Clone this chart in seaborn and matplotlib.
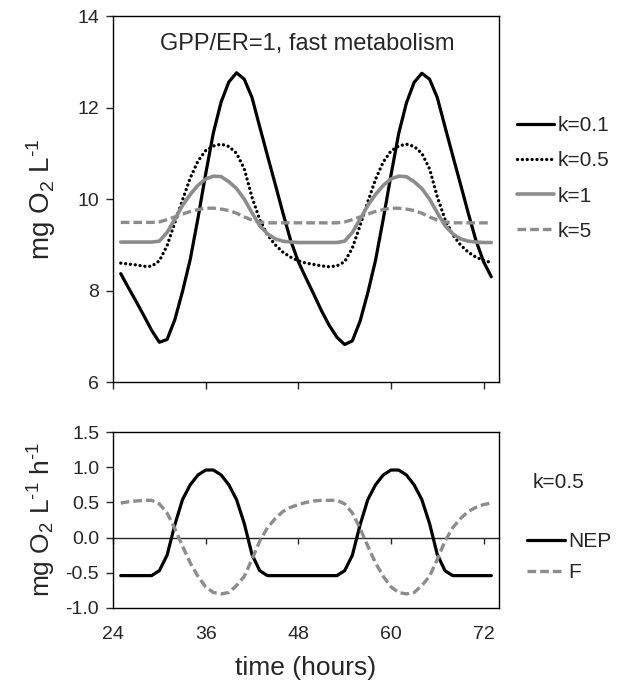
import matplotlib
matplotlib.use("Agg")
import matplotlib.pyplot as plt
import seaborn as sns

# ---- data (hourly, t = 25 .. 73 h) ----
time_h = list(range(25, 74))

# dissolved O2 (mg O2 / L), GPP/ER = 1, fast metabolism
o2_k01 = [8.37, 8.06, 7.76, 7.45, 7.13, 6.87, 6.93, 7.36, 7.98, 8.68,
          9.58, 10.55, 11.45, 12.12, 12.56, 12.76, 12.62, 12.22, 11.58, 10.95,
          10.33, 9.70, 9.10, 8.63, 8.27, 7.92, 7.56, 7.24, 6.98, 6.82,
          6.90, 7.33, 7.95, 8.66, 9.56, 10.52, 11.43, 12.10, 12.55, 12.75,
          12.62, 12.22, 11.58, 10.95, 10.33, 9.70, 9.10, 8.63, 8.30]
o2_k05 = [8.60, 8.58, 8.56, 8.53, 8.53, 8.65, 8.98, 9.48, 9.98, 10.46,
          10.83, 11.06, 11.16, 11.20, 11.15, 11.00, 10.66, 10.04, 9.55, 9.22,
          9.00, 8.84, 8.73, 8.65, 8.60, 8.57, 8.54, 8.52, 8.54, 8.63,
          8.93, 9.42, 9.94, 10.43, 10.81, 11.05, 11.16, 11.20, 11.15, 11.00,
          10.66, 10.05, 9.56, 9.22, 9.00, 8.84, 8.73, 8.66, 8.61]
o2_k1 = [9.06, 9.06, 9.06, 9.06, 9.06, 9.08, 9.27, 9.56, 9.86, 10.10,
         10.30, 10.44, 10.50, 10.49, 10.38, 10.23, 10.00, 9.70, 9.42, 9.24,
         9.13, 9.08, 9.06, 9.05, 9.05, 9.05, 9.05, 9.05, 9.05, 9.08,
         9.27, 9.56, 9.86, 10.10, 10.30, 10.44, 10.50, 10.49, 10.38, 10.23,
         10.00, 9.70, 9.42, 9.24, 9.13, 9.08, 9.06, 9.05, 9.05]
o2_k5 = [9.49, 9.49, 9.49, 9.49, 9.49, 9.50, 9.55, 9.61, 9.67, 9.73,
         9.77, 9.80, 9.80, 9.78, 9.75, 9.69, 9.61, 9.54, 9.50, 9.48,
         9.48, 9.48, 9.48, 9.48, 9.48, 9.48, 9.48, 9.48, 9.48, 9.50,
         9.55, 9.61, 9.67, 9.73, 9.77, 9.80, 9.80, 9.78, 9.75, 9.69,
         9.61, 9.54, 9.50, 9.48, 9.48, 9.48, 9.48, 9.48, 9.48]

# fluxes for k = 0.5 (mg O2 / L / h)
nep = [-0.54, -0.54, -0.54, -0.54, -0.54, -0.47, -0.25, 0.18, 0.54, 0.75,
       0.89, 0.96, 0.96, 0.89, 0.75, 0.54, 0.20, -0.24, -0.47, -0.54,
       -0.54, -0.54, -0.54, -0.54, -0.54, -0.54, -0.54, -0.54, -0.54, -0.47,
       -0.25, 0.18, 0.54, 0.75, 0.89, 0.96, 0.96, 0.89, 0.75, 0.54,
       0.20, -0.24, -0.47, -0.54, -0.54, -0.54, -0.54, -0.54, -0.54]
f_atm = [0.49, 0.51, 0.52, 0.53, 0.53, 0.48, 0.35, 0.13, -0.12, -0.36,
         -0.55, -0.70, -0.78, -0.80, -0.78, -0.68, -0.55, -0.31, -0.05, 0.14,
         0.27, 0.37, 0.43, 0.47, 0.50, 0.52, 0.53, 0.53, 0.53, 0.48,
         0.35, 0.13, -0.12, -0.36, -0.55, -0.70, -0.78, -0.80, -0.78, -0.68,
         -0.55, -0.31, -0.05, 0.14, 0.27, 0.37, 0.43, 0.47, 0.49]

x_ticks = [24, 36, 48, 60, 72]
top_yticks = [6, 8, 10, 12, 14]
bot_yticks = [-1.0, -0.5, 0.0, 0.5, 1.0, 1.5]

GRAY = "#8c8c8c"

sns.set_style("ticks")
plt.rcParams["font.family"] = ["Liberation Sans", "DejaVu Sans"]
plt.rcParams["mathtext.fontset"] = "custom"
plt.rcParams["mathtext.rm"] = "Liberation Sans"
plt.rcParams["mathtext.it"] = "Liberation Sans:italic"
plt.rcParams["mathtext.default"] = "regular"
plt.rcParams["axes.unicode_minus"] = False

fig = plt.figure(figsize=(6.19, 6.81), dpi=100)
ax1 = fig.add_axes([0.1826, 0.439, 0.6236, 0.5374])
ax2 = fig.add_axes([0.1826, 0.1072, 0.6236, 0.2584])

# ---- top panel: O2 concentration ----
top_series = [
    ("k=0.1", o2_k01, dict(color="black", lw=2.3, linestyle="-")),
    ("k=0.5", o2_k05, dict(color="black", lw=2.4, linestyle=(0, (0.01, 1.45)),
                           dash_capstyle="round")),
    ("k=1", o2_k1, dict(color=GRAY, lw=2.6, linestyle="-")),
    ("k=5", o2_k5, dict(color=GRAY, lw=2.4, linestyle=(0, (2.6, 1.2)))),
]
for lab, vals, st in top_series:
    sns.lineplot(x=time_h, y=vals, ax=ax1, label=lab, **st)

ax1.set_xlim(24, 74)
ax1.set_ylim(6, 14)
ax1.set_xticks(x_ticks)
ax1.set_yticks(top_yticks)
ax1.tick_params(axis="x", direction="out", length=5, width=1, labelbottom=False)
ax1.tick_params(axis="y", direction="out", length=5, width=1, labelsize=14, pad=5)
ax1.set_ylabel(r"mg O$_2$ L$^{\text{-}1}$", fontsize=20)
ax1.yaxis.set_label_coords(-0.143, 0.5)
ax1.text(0.504, 0.923, "GPP/ER=1, fast metabolism", transform=ax1.transAxes,
         ha="center", va="center", fontsize=17)

ax1.legend(loc="upper left", bbox_to_anchor=(0.835, 0.829),
           bbox_transform=fig.transFigure, frameon=False, fontsize=15,
           handlelength=1.8, handletextpad=0.15, labelspacing=0.77,
           borderaxespad=0, borderpad=0)

# ---- bottom panel: NEP and atmospheric exchange, k=0.5 ----
sns.lineplot(x=time_h, y=nep, ax=ax2, label="NEP", color="black", lw=2.3)
sns.lineplot(x=time_h, y=f_atm, ax=ax2, label="F", color=GRAY, lw=2.4,
             linestyle=(0, (2.6, 1.2)))

ax2.set_xlim(24, 74)
ax2.set_ylim(-1.0, 1.5)
ax2.set_xticks(x_ticks)
ax2.set_yticks(bot_yticks)
ax2.set_yticklabels([f"{v:.1f}" for v in bot_yticks])
ax2.tick_params(axis="x", length=0, labelsize=14, pad=13)
ax2.tick_params(axis="y", direction="out", length=5, width=1, labelsize=14, pad=5)
ax2.set_ylabel(r"mg O$_2$ L$^{\text{-}1}$ h$^{\text{-}1}$", fontsize=19)
ax2.yaxis.set_label_coords(-0.143, 0.5)
ax2.set_xlabel("time (hours)", fontsize=19, labelpad=9)

# zero line with its own small ticks
zero_ax = ax2.secondary_xaxis(0.4)
zero_ax.set_xticks(x_ticks)
zero_ax.tick_params(direction="out", length=4, width=1, labelbottom=False)
zero_ax.spines["bottom"].set_linewidth(1.0)

ax2.legend(loc="upper left", bbox_to_anchor=(0.852, 0.219),
           bbox_transform=fig.transFigure, frameon=False, fontsize=15,
           handlelength=1.8, handletextpad=0.15, labelspacing=0.59,
           borderaxespad=0, borderpad=0)
fig.text(533 / 619, 1 - 483 / 681, "k=0.5", fontsize=15, va="center")

for ax in (ax1, ax2):
    for sp in ax.spines.values():
        sp.set_visible(True)
        sp.set_linewidth(1.0)
        sp.set_color("black")

fig.savefig("out.png", dpi=100)
